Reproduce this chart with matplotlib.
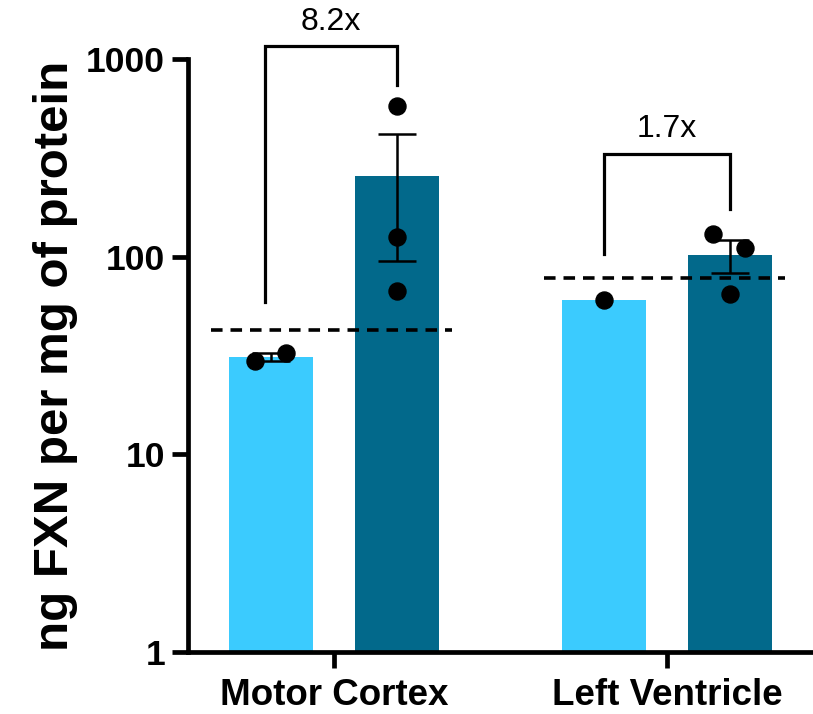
import matplotlib
matplotlib.use("Agg")
import matplotlib.pyplot as plt
import numpy as np

# values
groups = ["Motor Cortex", "Left Ventricle"]
light_pts = [[29.8, 32.6], [60.5]]
dark_pts = [[578, 126, 67], [130, 111, 65]]
ref_level = [42.5, 78]
fold_labels = ["8.2x", "1.7x"]

# annotation geometry (bracket top, left leg bottom, right leg bottom)
bracket_top = [1160, 330]
bracket_left = [59, 103]
bracket_right = [738, 174]
bracket_shift = [-0.02, 0.0]
light_jitter = [[-0.05, 0.045], [0.0]]
dark_jitter = [[0.0, 0.0, 0.0], [-0.05, 0.045, 0.0]]

light_col = "#3BCBFE"
dark_col = "#02698B"

plt.rcParams['font.family'] = ['Liberation Sans', 'DejaVu Sans']

fig = plt.figure(figsize=(8.13, 7.14), dpi=100)
ax = fig.add_axes([0.2312, 0.0868, 0.7688, 0.8305])

x = np.arange(len(groups))
off = 0.188
w = 0.252

for i in range(len(groups)):
    for pts, xc, col, jit in [(light_pts[i], x[i] - off, light_col, light_jitter[i]),
                              (dark_pts[i], x[i] + off, dark_col, dark_jitter[i])]:
        pts = np.array(pts, dtype=float)
        m = pts.mean()
        ax.bar(xc, m, width=w, color=col, zorder=1, bottom=0)
        if len(pts) > 1:
            sem = pts.std(ddof=1) / np.sqrt(len(pts))
            ax.errorbar(xc, m, yerr=sem, fmt="none", ecolor="black",
                        elinewidth=1.8, capsize=14, capthick=1.8, zorder=4)
        ax.scatter(xc + np.array(jit), pts, s=150, color="black", zorder=5,
                   clip_on=False)

    # dashed reference level
    ax.plot([x[i] - 0.37, x[i] + 0.355], [ref_level[i]] * 2, color="black",
            lw=2.6, ls=(0, (3.2, 2.2)), zorder=3)

    # fold-change bracket
    xl, xr = x[i] - off + bracket_shift[i], x[i] + off
    ax.plot([xl, xl, xr, xr], [bracket_left[i], bracket_top[i], bracket_top[i], bracket_right[i]],
            color="black", lw=2.3, clip_on=False, zorder=6, solid_joinstyle="miter")
    ax.text((xl + xr) / 2, bracket_top[i] * 1.12, fold_labels[i], ha="center", va="bottom",
            fontsize=23)

ax.set_yscale("log")
ax.set_ylim(1, 1000)
ax.set_xlim(-0.438, 1.438)
ax.set_yticks([1, 10, 100, 1000])
ax.set_yticklabels(["1", "10", "100", "1000"])
ax.yaxis.set_minor_locator(matplotlib.ticker.NullLocator())
ax.set_xticks(x)
ax.set_xticklabels(groups)

for s in ["top", "right"]:
    ax.spines[s].set_visible(False)
for s in ["left", "bottom"]:
    ax.spines[s].set_linewidth(3.4)
    ax.spines[s].set_capstyle("projecting")

ax.tick_params(axis="both", width=3.4, length=11.5, labelsize=25.5, pad=5)
ax.tick_params(axis="x", labelsize=26.5, pad=7)
for lab in ax.get_yticklabels() + ax.get_xticklabels():
    lab.set_fontweight("bold")

ax.set_ylabel("ng FXN per mg of protein", fontsize=35.5, fontweight="bold", labelpad=6)

fig.savefig("out.png", dpi=100)
